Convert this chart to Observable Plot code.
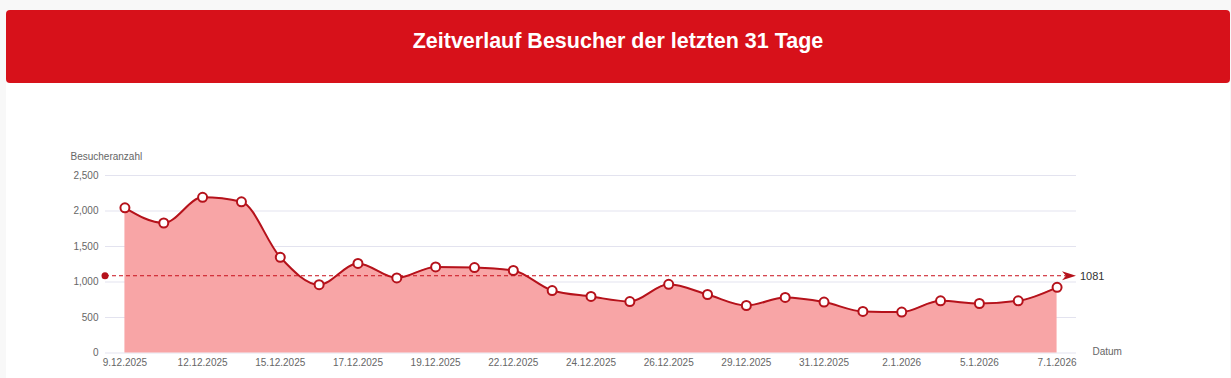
<!DOCTYPE html>
<html>
<head>
<meta charset="utf-8">
<script src="https://cdn.jsdelivr.net/npm/d3@7"></script>
<script src="https://cdn.jsdelivr.net/npm/@observablehq/plot@0.6"></script>
<style>
  html, body { margin: 0; padding: 0; background: #f8f8f8; width: 1231px; height: 378px; overflow: hidden; font-family: "Liberation Sans", Arial, sans-serif; }
  #header { position: absolute; left: 6px; top: 10px; width: 1224px; height: 73px; background: #d7111a; border-radius: 4px; color: #fff; font-weight: bold; font-size: 21.5px; text-align: center; line-height: 63px; }
  #card { position: absolute; left: 6px; top: 83px; width: 1224px; height: 295px; background: #fff; }
  #chart { position: absolute; left: 0; top: 83px; }
</style>
</head>
<body>
<div id="header">Zeitverlauf Besucher der letzten 31 Tage</div>
<div id="card"></div>
<div id="chart"></div>
<script>
const dates = ["9.12.2025","10.12.2025","12.12.2025","13.12.2025","15.12.2025","16.12.2025","17.12.2025","18.12.2025","19.12.2025","21.12.2025","22.12.2025","23.12.2025","24.12.2025","25.12.2025","26.12.2025","28.12.2025","29.12.2025","30.12.2025","31.12.2025","1.1.2026","2.1.2026","4.1.2026","5.1.2026","6.1.2026","7.1.2026"];
const visitors = [2045, 1831, 2192, 2130, 1348, 962, 1261, 1058, 1213, 1204, 1162, 880, 796, 725, 968, 824, 669, 782, 718, 585, 577, 735, 697, 735, 925];
const tickDates = ["9.12.2025","12.12.2025","15.12.2025","17.12.2025","19.12.2025","22.12.2025","24.12.2025","26.12.2025","29.12.2025","31.12.2025","2.1.2026","5.1.2026","7.1.2026"];
const yTicks = [0, 500, 1000, 1500, 2000, 2500];
const averageValue = 1081;
const yLabel = "Besucheranzahl";
const xLabel = "Datum";

const data = dates.map((d, i) => ({date: d, value: visitors[i]}));
const lineColor = "#b5121b";

const meanMark = (index, scales, values, dim) => {
  const y = scales.y(averageValue);
  const x0 = dim.marginLeft;
  const x1 = dim.width - dim.marginRight;
  const g = d3.create("svg:g");
  g.append("line").attr("x1", x0).attr("x2", x1 - 10).attr("y1", y).attr("y2", y)
    .attr("stroke", "#c8101c").attr("stroke-width", 1).attr("stroke-dasharray", "4,3");
  g.append("path").attr("d", `M${x1 - 14},${y - 4.5} L${x1},${y} L${x1 - 14},${y + 4.5} L${x1 - 10},${y} Z`)
    .attr("fill", "#b5121b");
  g.append("circle").attr("cx", x0).attr("cy", y).attr("r", 3.5).attr("fill", "#b5121b");
  g.append("text").attr("x", x1 + 4).attr("y", y).attr("dy", "0.35em").attr("text-anchor", "start")
    .attr("font-size", 11).attr("fill", "#333").text(String(averageValue));
  return g.node();
};

const chart = Plot.plot({
  width: 1231,
  height: 295,
  marginLeft: 105,
  marginRight: 155,
  marginTop: 92,
  marginBottom: 25.5,
  style: { fontFamily: "Liberation Sans, Arial, sans-serif", fontSize: "10px", background: "transparent" },
  x: { type: "point", domain: dates, padding: 0.5, round: false },
  y: { domain: [0, 2500] },
  marks: [
    Plot.gridY(yTicks, { stroke: "#e3e3ef", strokeOpacity: 1 }),
    Plot.areaY(data, { x: "date", y: "value", curve: "monotone-x", fill: "#f8a5a6", fillOpacity: 1 }),
    Plot.lineY(data, { x: "date", y: "value", curve: "monotone-x", stroke: lineColor, strokeWidth: 2 }),
    meanMark,
    Plot.dot(data, { x: "date", y: "value", r: 4.5, fill: "white", stroke: lineColor, strokeWidth: 2 }),
    Plot.axisY(yTicks, { tickSize: 0, tickPadding: 7, tickFormat: d3.format(","), fill: "#666", fontSize: 10, label: null }),
    Plot.axisX(tickDates, { tickSize: 0, tickPadding: 6, fill: "#666", fontSize: 10, label: null }),
    Plot.text([yLabel], { frameAnchor: "top-left", dx: -35, dy: -19, textAnchor: "start", lineAnchor: "middle", fill: "#666", fontSize: 10 }),
    Plot.text([xLabel], { frameAnchor: "bottom-right", dx: 16, dy: -1, textAnchor: "start", lineAnchor: "middle", fill: "#666", fontSize: 10 })
  ]
});
document.getElementById("chart").appendChild(chart);
</script>
</body>
</html>
